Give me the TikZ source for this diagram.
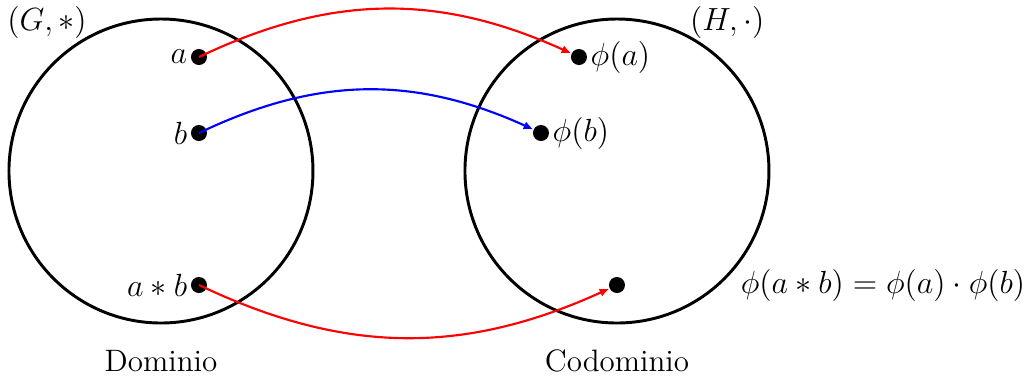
\documentclass[tikz,border=0pt]{standalone}
\usetikzlibrary{arrows.meta}
\begin{document}
\begin{tikzpicture}[
  every label/.style={font=\fontsize{11.6}{14}\selectfont},
  txt/.style={font=\fontsize{11.6}{14}\selectfont},
  setc/.style={draw, line width=1.1pt},
  dot/.style={circle, fill=black, inner sep=0pt, minimum size=6pt},
  arr/.style={thick, -{Latex[length=3.6pt,width=3.2pt]}},
]
\useasboundingbox (-2.118,-2.724) rectangle (11.382,2.25);
\node[setc, circle, minimum size=4cm, inner sep=0pt] (G) at (0,0) {};
\node[setc, circle, minimum size=4cm, inner sep=0pt] (H) at (6,0) {};
\node[txt] (Glab) at (-1.5,1.96) {$(G,*)$};
\node[txt] (Hlab) at (7.45,1.96) {$(H,\cdot)$};
\node[txt] (Dom) at (0,-2.5) {Dominio};
\node[txt] (Cod) at (6,-2.5) {Codominio};
\node[dot, label={[inner sep=1pt]left:$a$}] (a) at (0.5,1.5) {};
\node[dot, label={[inner sep=1pt]left:$b$}] (b) at (0.5,0.5) {};
\node[dot, label={[inner sep=1pt]left:$a*b$}] (ab) at (0.5,-1.5) {};
\node[dot, label={[inner sep=1pt]right:$\phi(a)$}] (pa) at (5.5,1.5) {};
\node[dot, label={[inner sep=1pt]right:$\phi(b)$}] (pb) at (5,0.5) {};
\node[dot] (pab) at (6,-1.5) {};
\node[txt] (eq) at (9.5,-1.5) {$\phi(a*b)=\phi(a)\cdot\phi(b)$};
\draw[arr, red] (a.center) to[bend left=25] (pa);
\draw[arr, blue] (b.center) to[bend left=25] (pb);
\draw[arr, red] (ab.center) to[bend right=25] (pab);
\end{tikzpicture}
\end{document}
